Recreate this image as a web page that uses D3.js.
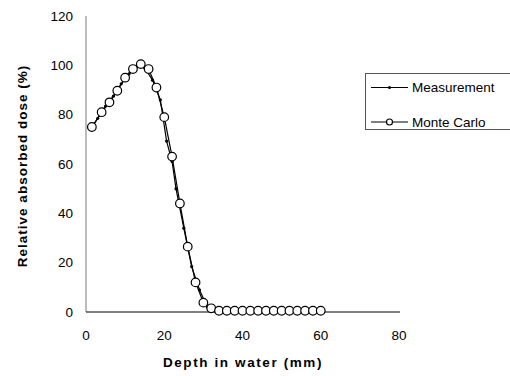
<!DOCTYPE html>
<html><head><meta charset="utf-8">
<script src="https://cdn.jsdelivr.net/npm/d3@7"></script>
<style>body{margin:0;background:#fff;} svg{display:block;font-family:"Liberation Sans",Arial,sans-serif;}</style>
</head><body>
<svg id="c" width="510" height="376"></svg>
<script>
const xTicks = [0, 20, 40, 60, 80];
const yTicks = [0, 20, 40, 60, 80, 100, 120];
const mcDepth = [1.5, 4, 6, 8, 10, 12, 14, 16, 18, 20, 22, 24, 26, 28, 30, 32, 34, 36, 38, 40, 42, 44, 46, 48, 50, 52, 54, 56, 58, 60];
const mcDose  = [75, 81, 85, 89.7, 95, 98.5, 100.5, 98.5, 91, 79, 63, 44, 26.5, 12, 3.8, 1.5, 0.5, 0.5, 0.5, 0.5, 0.5, 0.5, 0.5, 0.5, 0.5, 0.5, 0.5, 0.5, 0.5, 0.5];
const measDepth = [2, 3, 5, 7, 9, 11, 13, 15, 17, 19, 20.6, 22, 23, 25, 27, 29, 31, 33, 35];
const measDose  = [76, 78.5, 83.5, 87.5, 92.5, 96.5, 99.5, 99, 94, 86, 69.3, 61, 50, 34, 18.4, 9, 2, 0.3, 0];
const seriesNames = ["Measurement", "Monte Carlo"];

const svg = d3.select("#c");
const x = d3.scaleLinear().domain([0, 80]).range([86, 399]);
const y = d3.scaleLinear().domain([0, 120]).range([312, 16]);

// axes
svg.append("line").attr("x1", 86).attr("x2", 86).attr("y1", y(120)).attr("y2", y(0))
  .attr("stroke", "#7a7a7a").attr("stroke-width", 1);
svg.append("line").attr("x1", 86).attr("x2", 400).attr("y1", y(0)).attr("y2", y(0))
  .attr("stroke", "#000").attr("stroke-width", 1);

svg.selectAll(".yt").data(yTicks).enter().append("text")
  .attr("x", 73).attr("y", d => y(d)).attr("dy", "0.35em")
  .attr("text-anchor", "end").attr("font-size", "13.5px").text(d => d);
svg.selectAll(".xt").data(xTicks).enter().append("text")
  .attr("x", d => x(d)).attr("y", 335).attr("dy", "0.35em")
  .attr("text-anchor", "middle").attr("font-size", "13.5px").text(d => d);

svg.append("text").attr("x", 243).attr("y", 367).attr("text-anchor", "middle")
  .attr("font-size", "13.5px").attr("font-weight", "bold").attr("letter-spacing", "1.6px")
  .text("Depth in water (mm)");
svg.append("text").attr("transform", "translate(27,166) rotate(-90)").attr("text-anchor", "middle")
  .attr("font-size", "13.5px").attr("font-weight", "bold").attr("letter-spacing", "1px")
  .text("Relative absorbed dose (%)");

const line = d3.line().x(d => x(d[0])).y(d => y(d[1]));
const meas = measDepth.map((d, i) => [d, measDose[i]]);
const mc = mcDepth.map((d, i) => [d, mcDose[i]]);

svg.append("path").datum(meas).attr("d", line).attr("fill", "none").attr("stroke", "#000").attr("stroke-width", 1.2);
svg.selectAll(".md").data(meas).enter().append("circle")
  .attr("cx", d => x(d[0])).attr("cy", d => y(d[1])).attr("r", 1.6).attr("fill", "#000");

svg.append("path").datum(mc).attr("d", line).attr("fill", "none").attr("stroke", "#000").attr("stroke-width", 1.2);
svg.selectAll(".mc").data(mc).enter().append("circle")
  .attr("cx", d => x(d[0])).attr("cy", d => y(d[1])).attr("r", 4.3)
  .attr("fill", "#fff").attr("stroke", "#000").attr("stroke-width", 1.2);

// legend
const lg = svg.append("g");
lg.append("rect").attr("x", 365.5).attr("y", 73.5).attr("width", 160).attr("height", 56)
  .attr("fill", "#fff").attr("stroke", "#555").attr("stroke-width", 1);
const ly = [87.5, 122];
seriesNames.forEach((n, i) => {
  lg.append("line").attr("x1", 371).attr("x2", 408).attr("y1", ly[i]).attr("y2", ly[i])
    .attr("stroke", "#000").attr("stroke-width", 1.2);
  if (i === 0) lg.append("circle").attr("cx", 389.5).attr("cy", ly[i]).attr("r", 1.5).attr("fill", "#000");
  else lg.append("circle").attr("cx", 389.5).attr("cy", ly[i]).attr("r", 3).attr("fill", "#fff")
    .attr("stroke", "#000").attr("stroke-width", 1.2);
  lg.append("text").attr("x", 412).attr("y", ly[i]).attr("dy", "0.35em").attr("font-size", "13.5px").text(n);
});
</script>
</body></html>
